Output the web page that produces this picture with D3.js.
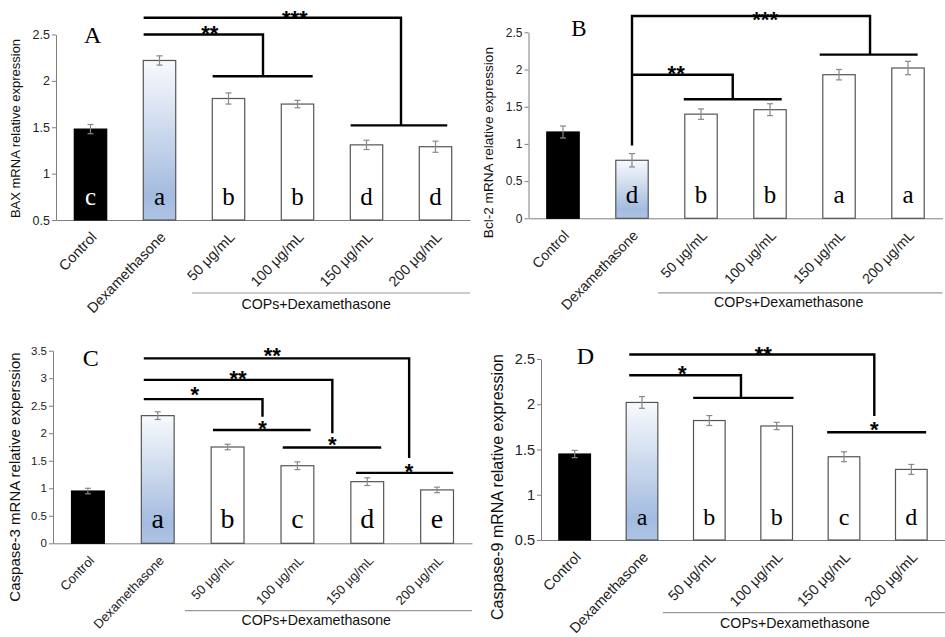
<!DOCTYPE html>
<html>
<head>
<meta charset="utf-8">
<script src="https://cdn.jsdelivr.net/npm/d3@7"></script>
<style>
  body { margin: 0; background: #fff; }
  svg { display: block; }
  .axis path, .axis line { stroke: #7f7f7f; }
  .axis text { fill: #222; font-family: "Liberation Sans", Arial, sans-serif; }
</style>
</head>
<body>
<div id="chart"></div>
<script>
// Categories shared by all four panels
var groups = ["Control", "Dexamethasone", "50 \u03bcg/mL", "100 \u03bcg/mL", "150 \u03bcg/mL", "200 \u03bcg/mL"];

// A - BAX
var baxMean = [1.48, 2.22, 1.81, 1.75, 1.31, 1.29];
var baxErr = [0.05, 0.05, 0.06, 0.04, 0.05, 0.06];
var baxLetters = ["c", "a", "b", "b", "d", "d"];
var baxTicks = [0.5, 1, 1.5, 2, 2.5];

// B - Bcl-2
var bclMean = [1.16, 0.78, 1.40, 1.46, 1.93, 2.02];
var bclErr = [0.08, 0.09, 0.07, 0.08, 0.07, 0.09];
var bclLetters = ["", "d", "b", "b", "a", "a"];
var bclTicks = [0, 0.5, 1, 1.5, 2, 2.5];

// C - Caspase-3
var casp3Mean = [0.95, 2.32, 1.75, 1.41, 1.12, 0.97];
var casp3Err = [0.05, 0.07, 0.05, 0.07, 0.07, 0.05];
var casp3Letters = ["", "a", "b", "c", "d", "e"];
var casp3Ticks = [0, 0.5, 1, 1.5, 2, 2.5, 3, 3.5];

// D - Caspase-9
var casp9Mean = [1.45, 2.02, 1.82, 1.76, 1.42, 1.28];
var casp9Err = [0.04, 0.065, 0.055, 0.04, 0.055, 0.055];
var casp9Letters = ["", "a", "b", "b", "c", "d"];
var casp9Ticks = [0.5, 1, 1.5, 2, 2.5];

// significance brackets, in (category index, value) units
var baxSig = [
    {path: [[0.77, 2.5], [2.5, 2.5], [2.5, 2.05]], bar: [1.77, 3.22, 2.05], label: "**", at: [1.73, 2.58]},
    {path: [[0.77, 2.68], [4.5, 2.68], [4.5, 1.52]], bar: [3.77, 5.17, 1.52], label: "***", at: [2.96, 2.74]}
];
var bclSig = [
    {path: [[1, 0.98], [1, 2.72], [4.45, 2.72], [4.45, 2.2]], bar: [3.72, 5.14, 2.2], label: "***", at: [2.93, 2.76]},
    {path: [[1, 1.93], [2.46, 1.93], [2.46, 1.6]], bar: [1.75, 3.17, 1.6], label: "**", at: [1.64, 2.03]}
];
var casp3Sig = [
    {path: [[0.8, 2.62], [2.5, 2.62], [2.5, 2.3]], tip: [2.5, 2.2], bar: [1.79, 3.19, 2.06], label: "*", at: [1.53, 2.82]},
    {path: [[0.8, 2.97], [3.5, 2.97], [3.5, 2.0]], tip: [3.5, 1.91], bar: [2.79, 4.2, 1.74], label: "**", at: [2.15, 3.1]},
    {path: [[0.8, 3.36], [4.6, 3.36], [4.6, 1.55]], tip: [4.6, 1.42], bar: [3.84, 5.23, 1.28], label: "**", at: [2.64, 3.53]}
];
var casp9Sig = [
    {path: [[0.81, 2.32], [2.47, 2.32], [2.47, 2.07]], bar: [1.76, 3.25, 2.07], label: "*", at: [1.6, 2.41]},
    {path: [[0.81, 2.55], [4.45, 2.55], [4.45, 1.87]], tip: [4.45, 1.79], bar: [3.75, 5.22, 1.69], label: "**", at: [2.8, 2.62]}
];

var panels = [
    {name: "A", title: "BAX mRNA relative expression", mean: baxMean, err: baxErr, letters: baxLetters,
     ticks: baxTicks, sig: baxSig, domain: [0.5, 2.5], x: [56, 470], y: [220, 34.5], nameAt: [0.03, 2.5], nameSize: 24,
     tickSize: 12.5, titleSize: 13, titleAt: [15, 128.5], labelSize: 14.5, letterSize: 25, groupLine: [1.47, 73, 89]},
    {name: "B", title: "Bcl-2 mRNA relative expression", mean: bclMean, err: bclErr, letters: bclLetters,
     ticks: bclTicks, sig: bclSig, domain: [0, 2.5], x: [528.5, 942.5], y: [218.3, 32.3], nameAt: [0.23, 2.56], nameSize: 23,
     tickSize: 12, titleSize: 13.6, titleAt: [488, 142.6], labelSize: 14.2, letterSize: 25, groupLine: [1.38, 74.5, 89]},
    {name: "C", title: "Caspase-3 mRNA relative experssion", mean: casp3Mean, err: casp3Err, letters: casp3Letters,
     ticks: casp3Ticks, sig: casp3Sig, domain: [0, 3.5], x: [53, 472], y: [543.3, 350.7], nameAt: [0.04, 3.37], nameSize: 24,
     tickSize: 11.5, titleSize: 15, titleAt: [15, 477], labelSize: 13, letterSize: 28, groupLine: [1.39, 67.4, 82]},
    {name: "D", title: "Caspase-9 mRNA relative expression", mean: casp9Mean, err: casp9Err, letters: casp9Letters,
     ticks: casp9Ticks, sig: casp9Sig, domain: [0.5, 2.5], x: [541, 945], y: [540, 359], nameAt: [0.16, 2.54], nameSize: 24,
     tickSize: 14.5, titleSize: 16, titleAt: [497, 487], labelSize: 14.5, letterSize: 24, groupLine: [1.31, 72.7, 88]}
];

var sans = '"Liberation Sans", Arial, sans-serif';
var serif = '"Liberation Serif", "Times New Roman", serif';

var svg = d3.select('#chart').append('svg')
    .attr('width', 945)
    .attr('height', 637);

// gradient of the Dexamethasone bar
var grad = svg.append('defs').append('linearGradient')
    .attr('id', 'dexGrad')
    .attr('x1', 0).attr('y1', 0).attr('x2', 0).attr('y2', 1);
grad.append('stop').attr('offset', '0%').attr('stop-color', '#f8fafd');
grad.append('stop').attr('offset', '85%').attr('stop-color', '#a3bbdf');
grad.append('stop').attr('offset', '100%').attr('stop-color', '#aec4e4');

panels.forEach(function(p) {
    var data = groups.map(function(g, i) {
        return {group: g, mean: p.mean[i], err: p.err[i], letter: p.letters[i], i: i};
    });

    var x = d3.scaleBand().domain(groups).range(p.x)
        .paddingInner(0.53).paddingOuter(0.265);
    var y = d3.scaleLinear().domain(p.domain).range(p.y);

    // fractional category index -> pixel
    var xi = function(i) { return x(groups[0]) + x.bandwidth() / 2 + i * x.step(); };

    var g = svg.append('g').attr('class', 'panel');

    // y axis
    var yAxis = g.append('g')
        .attr('class', 'axis')
        .attr('transform', 'translate(' + p.x[0] + ',0)')
        .call(d3.axisLeft(y).tickValues(p.ticks).tickSize(4).tickSizeOuter(0).tickFormat(d3.format('~g')));
    yAxis.selectAll('text').style('font-size', p.tickSize + 'px').attr('x', -6);

    // x axis
    var xAxis = g.append('g')
        .attr('class', 'axis')
        .attr('transform', 'translate(0,' + p.y[0] + ')')
        .call(d3.axisBottom(x).tickSize(0).tickSizeOuter(0));
    xAxis.selectAll('.tick text')
        .style('font-size', p.labelSize + 'px')
        .style('text-anchor', 'end')
        .attr('y', 0)
        .attr('dy', 0)
        .attr('transform', 'translate(7,18) rotate(-46)');

    // y title
    g.append('text')
        .attr('transform', 'translate(' + p.titleAt[0] + ',' + p.titleAt[1] + ') rotate(-90)')
        .attr('dy', '0.35em')
        .style('text-anchor', 'middle')
        .style('font-family', sans)
        .style('font-size', p.titleSize + 'px')
        .attr('fill', '#111')
        .text(p.title);

    // bars
    g.selectAll('rect.bar').data(data).enter().append('rect')
        .attr('class', 'bar')
        .attr('x', function(d) { return x(d.group); })
        .attr('width', x.bandwidth())
        .attr('y', function(d) { return y(d.mean); })
        .attr('height', function(d) { return y(p.domain[0]) - y(d.mean); })
        .attr('fill', function(d) { return d.i === 0 ? '#000' : (d.i === 1 ? 'url(#dexGrad)' : '#fff'); })
        .attr('stroke', function(d) { return d.i === 0 ? '#000' : '#555'; })
        .attr('stroke-width', 1.2);

    // error bars
    var eb = g.selectAll('g.err').data(data).enter().append('g').attr('class', 'err')
        .attr('stroke', '#888').attr('stroke-width', 1.2);
    eb.append('line')
        .attr('x1', function(d) { return x(d.group) + x.bandwidth() / 2; })
        .attr('x2', function(d) { return x(d.group) + x.bandwidth() / 2; })
        .attr('y1', function(d) { return y(d.mean - d.err); })
        .attr('y2', function(d) { return y(d.mean + d.err); });
    [-1, 1].forEach(function(s) {
        eb.append('line')
            .attr('x1', function(d) { return x(d.group) + x.bandwidth() / 2 - 3; })
            .attr('x2', function(d) { return x(d.group) + x.bandwidth() / 2 + 3; })
            .attr('y1', function(d) { return y(d.mean + s * d.err); })
            .attr('y2', function(d) { return y(d.mean + s * d.err); });
    });

    // letters inside bars
    g.selectAll('text.letter').data(data).enter().append('text')
        .attr('class', 'letter')
        .attr('x', function(d) { return x(d.group) + x.bandwidth() / 2; })
        .attr('y', y(p.domain[0]) - 15)
        .style('text-anchor', 'middle')
        .style('font-family', serif)
        .style('font-size', p.letterSize + 'px')
        .attr('fill', function(d) { return d.i === 0 ? '#fff' : '#000'; })
        .text(function(d) { return d.letter; });

    // panel name
    g.append('text')
        .attr('x', xi(p.nameAt[0]))
        .attr('y', y(p.nameAt[1]))
        .attr('dy', '0.35em')
        .style('text-anchor', 'middle')
        .style('font-family', serif)
        .style('font-size', p.nameSize + 'px')
        .text(p.name);

    // significance brackets
    var line = d3.line()
        .x(function(d) { return xi(d[0]); })
        .y(function(d) { return y(d[1]); });
    p.sig.forEach(function(s) {
        g.append('path')
            .attr('d', line(s.path))
            .attr('fill', 'none')
            .attr('stroke', '#000')
            .attr('stroke-width', 2.4);
        g.append('line')
            .attr('x1', xi(s.bar[0])).attr('x2', xi(s.bar[1]))
            .attr('y1', y(s.bar[2])).attr('y2', y(s.bar[2]))
            .attr('stroke', '#000')
            .attr('stroke-width', 2.4);
        var stars = [[s.label, s.at]];
        if (s.tip) stars.push(['*', s.tip]);
        stars.forEach(function(st) {
            g.append('text')
                .attr('x', xi(st[1][0]))
                .attr('y', y(st[1][1]))
                .attr('dy', '0.62em')
                .style('text-anchor', 'middle')
                .style('font-family', sans)
                .style('font-weight', 'bold')
                .style('font-size', '22px')
                .text(st[0]);
        });
    });

    // COPs+Dexamethasone group line
    var base = y(p.domain[0]);
    g.append('line')
        .attr('x1', xi(p.groupLine[0])).attr('x2', p.x[1])
        .attr('y1', base + p.groupLine[1]).attr('y2', base + p.groupLine[1])
        .attr('stroke', '#999')
        .attr('stroke-width', 1.2);
    g.append('text')
        .attr('x', xi(3.27))
        .attr('y', base + p.groupLine[2])
        .style('text-anchor', 'middle')
        .style('font-family', sans)
        .style('font-size', '14.2px')
        .attr('fill', '#111')
        .text('COPs+Dexamethasone');
});
</script>
</body>
</html>
